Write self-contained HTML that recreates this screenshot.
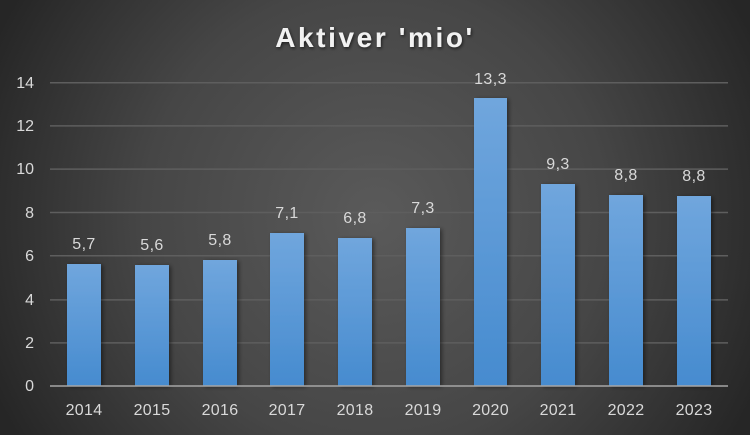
<!DOCTYPE html>
<html><head><meta charset="utf-8"><style>
html,body{margin:0;padding:0;width:750px;height:435px;overflow:hidden;background:#333;}
svg{display:block;}
text{font-family:"Liberation Sans",sans-serif;}
</style></head><body>
<svg width="750" height="435" viewBox="0 0 750 435" xmlns="http://www.w3.org/2000/svg">
<defs>
<radialGradient id="bg" cx="375" cy="217" r="420" gradientUnits="userSpaceOnUse">
<stop offset="0" stop-color="#5a5a5a"/>
<stop offset="0.55" stop-color="#464646"/>
<stop offset="1" stop-color="#262626"/>
</radialGradient>
<linearGradient id="bar" x1="0" y1="0" x2="0" y2="1">
<stop offset="0" stop-color="#70a6dd"/>
<stop offset="1" stop-color="#468bcf"/>
</linearGradient>
<filter id="sh" x="-20%" y="-10%" width="150%" height="130%">
<feGaussianBlur in="SourceAlpha" stdDeviation="2"/>
<feOffset dx="2" dy="1" result="b"/>
<feComponentTransfer><feFuncA type="linear" slope="0.45"/></feComponentTransfer>
<feMerge><feMergeNode/><feMergeNode in="SourceGraphic"/></feMerge>
</filter>
<filter id="tsh" x="-10%" y="-30%" width="120%" height="160%">
<feGaussianBlur in="SourceAlpha" stdDeviation="1.5"/>
<feOffset dx="1" dy="1.5"/>
<feComponentTransfer><feFuncA type="linear" slope="0.6"/></feComponentTransfer>
<feMerge><feMergeNode/><feMergeNode in="SourceGraphic"/></feMerge>
</filter>
</defs>
<rect width="750" height="435" fill="url(#bg)"/>
<g stroke="#5e5e5e" stroke-width="1.5">
<line x1="50" y1="82.7" x2="728" y2="82.7"/>
<line x1="50" y1="125.9" x2="728" y2="125.9"/>
<line x1="50" y1="169.1" x2="728" y2="169.1"/>
<line x1="50" y1="212.5" x2="728" y2="212.5"/>
<line x1="50" y1="255.7" x2="728" y2="255.7"/>
<line x1="50" y1="299.9" x2="728" y2="299.9"/>
<line x1="50" y1="342.9" x2="728" y2="342.9"/>
</g>
<g fill="#d9d9d9" font-size="16" text-anchor="end">
<text x="34" y="88">14</text>
<text x="34" y="131">12</text>
<text x="34" y="174">10</text>
<text x="34" y="218">8</text>
<text x="34" y="261">6</text>
<text x="34" y="305">4</text>
<text x="34" y="348">2</text>
<text x="34" y="391">0</text>
</g>
<g fill="url(#bar)" filter="url(#sh)">
<rect x="67" y="264" width="34" height="122"/>
<rect x="135" y="265" width="34" height="121"/>
<rect x="203" y="260" width="34" height="126"/>
<rect x="270" y="233" width="34" height="153"/>
<rect x="338" y="238" width="34" height="148"/>
<rect x="406" y="228" width="34" height="158"/>
<rect x="474" y="98" width="33" height="288"/>
<rect x="541" y="184" width="34" height="202"/>
<rect x="609" y="195" width="34" height="191"/>
<rect x="677" y="196" width="34" height="190"/>
</g>
<line x1="50" y1="386" x2="728" y2="386" stroke="#a6a6a6" stroke-width="1.6"/>
<g fill="#d9d9d9" font-size="16" text-anchor="middle" letter-spacing="0.4">
<text x="84" y="249">5,7</text>
<text x="152" y="250">5,6</text>
<text x="220" y="245">5,8</text>
<text x="287" y="218">7,1</text>
<text x="355" y="223">6,8</text>
<text x="423" y="213">7,3</text>
<text x="490.5" y="84">13,3</text>
<text x="558" y="169">9,3</text>
<text x="626" y="180">8,8</text>
<text x="694" y="181">8,8</text>
</g>
<g fill="#d9d9d9" font-size="16" text-anchor="middle" letter-spacing="0.3">
<text x="84" y="415">2014</text>
<text x="152" y="415">2015</text>
<text x="220" y="415">2016</text>
<text x="287" y="415">2017</text>
<text x="355" y="415">2018</text>
<text x="423" y="415">2019</text>
<text x="490.5" y="415">2020</text>
<text x="558" y="415">2021</text>
<text x="626" y="415">2022</text>
<text x="694" y="415">2023</text>
</g>
<text x="375" y="47" text-anchor="middle" fill="#f2f2f2" font-size="28" font-weight="bold" letter-spacing="2.6" filter="url(#tsh)">Aktiver 'mio'</text>
</svg>
</body></html>
